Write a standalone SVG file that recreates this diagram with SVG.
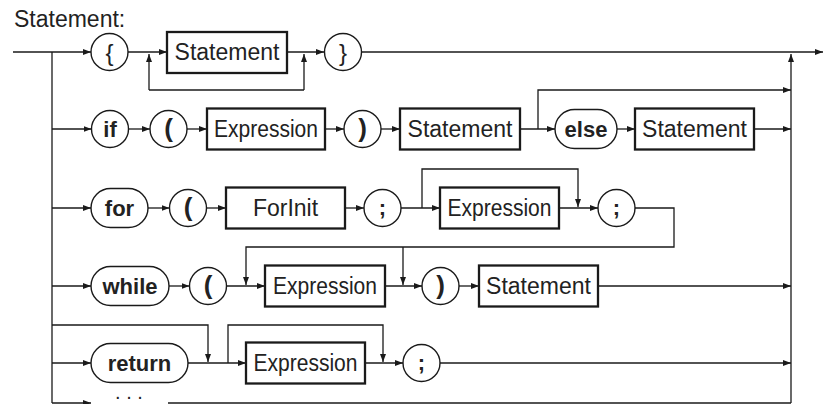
<svg xmlns="http://www.w3.org/2000/svg" width="823" height="404" viewBox="0 0 823 404">
<defs>
<marker id="ah" markerUnits="userSpaceOnUse" markerWidth="9" markerHeight="7" refX="8" refY="3" orient="auto">
<path d="M0,0 L8,3 L0,6 z" fill="#1a1a1a"/>
</marker>
<style>
.l{fill:none;stroke:#1a1a1a;stroke-width:1.3}
.a{marker-end:url(#ah)}
.box{fill:#fff;stroke:#1a1a1a;stroke-width:2.3}
.term{fill:#fff;stroke:#1a1a1a;stroke-width:1.4}
.t{font-family:"Liberation Sans",Arial,sans-serif;font-size:23px;fill:#222}
.k{font-family:"Liberation Sans",Arial,sans-serif;font-size:22px;font-weight:bold;fill:#222;text-anchor:middle}
.p{font-family:"Liberation Sans",Arial,sans-serif;font-size:26px;fill:#222;text-anchor:middle}
.m{text-anchor:middle}
</style>
</defs>
<text class="t" x="14" y="27">Statement:</text>
<g id="connectors">
<path class="l" d="M52,52 V403"/>
<path class="l a" d="M791,403 V54"/>
<path class="l a" d="M13,52 H91"/>
<path class="l a" d="M128,52 H167"/>
<path class="l a" d="M287,52 H324"/>
<path class="l" d="M149,90 H304"/>
<path class="l a" d="M149,90 V54"/>
<path class="l a" d="M304,90 V54"/>
<path class="l a" d="M362,52 H823"/>
<path class="l a" d="M52,129 H91.5"/>
<path class="l a" d="M128.5,129 H150"/>
<path class="l a" d="M187,129 H207"/>
<path class="l a" d="M325,129 H344"/>
<path class="l a" d="M381,129 H400"/>
<path class="l a" d="M520,129 H555"/>
<path class="l a" d="M538,129 V90 H791"/>
<path class="l a" d="M617,129 H635"/>
<path class="l a" d="M754,129 H791"/>
<path class="l a" d="M52,208 H91"/>
<path class="l a" d="M148,208 H169.5"/>
<path class="l a" d="M206.5,208 H226"/>
<path class="l a" d="M345,208 H364"/>
<path class="l a" d="M401,208 H440"/>
<path class="l a" d="M422,208 V169 H578 V207"/>
<path class="l a" d="M559,208 H598"/>
<path class="l a" d="M635,208 H674 V247 H246 V285"/>
<path class="l a" d="M403,247 V285"/>
<path class="l a" d="M52,286 H91"/>
<path class="l a" d="M169,286 H189.5"/>
<path class="l a" d="M226.5,286 H265"/>
<path class="l a" d="M385,286 H422"/>
<path class="l a" d="M459,286 H479"/>
<path class="l a" d="M598,286 H791"/>
<path class="l a" d="M52,363 H91"/>
<path class="l a" d="M52,325 H208 V362"/>
<path class="l a" d="M188,363 H246"/>
<path class="l a" d="M228,363 V325 H383 V362"/>
<path class="l a" d="M365,363 H403"/>
<path class="l a" d="M440,363 H791"/>
<path class="l a" d="M52,403 H91"/>
<path class="l" d="M168,403 H791"/>
</g>
<g id="lbrace"><circle class="term" cx="109.5" cy="52" r="18.5"/><text class="p" x="109.5" y="61" style="font-size:24px">{</text></g>
<g id="stmt1"><rect class="box" x="167" y="32" width="120" height="41"/><text class="t m" x="227" y="60">Statement</text></g>
<g id="rbrace"><circle class="term" cx="343" cy="52" r="18.5"/><text class="p" x="343" y="61" style="font-size:24px">}</text></g>

<g id="if"><circle class="term" cx="110" cy="129" r="18.5"/><text class="k" x="110" y="137">if</text></g>
<g id="lparen1"><circle class="term" cx="168.5" cy="129" r="18.5"/><text class="p" x="168.5" y="137" font-weight="bold">(</text></g>
<g id="expr1"><rect class="box" x="207" y="108.5" width="118" height="41"/><text class="t m" x="266" y="137" textLength="104" lengthAdjust="spacingAndGlyphs">Expression</text></g>
<g id="rparen1"><circle class="term" cx="362.5" cy="129" r="18.5"/><text class="p" x="362.5" y="137" font-weight="bold">)</text></g>
<g id="stmt2"><rect class="box" x="400" y="108.5" width="120" height="41"/><text class="t m" x="460" y="137">Statement</text></g>
<g id="else"><rect class="term" x="555" y="109.5" width="62" height="39" rx="19.5"/><text class="k" x="586" y="137">else</text></g>
<g id="stmt3"><rect class="box" x="635" y="108.5" width="119" height="41"/><text class="t m" x="694.5" y="137">Statement</text></g>

<g id="for"><rect class="term" x="91" y="188.5" width="57" height="39" rx="19.5"/><text class="k" x="119.5" y="216">for</text></g>
<g id="lparen2"><circle class="term" cx="188" cy="208" r="18.5"/><text class="p" x="188" y="216" font-weight="bold">(</text></g>
<g id="forinit"><rect class="box" x="226" y="187.5" width="119" height="41"/><text class="t m" x="285.5" y="216">ForInit</text></g>
<g id="semi1"><circle class="term" cx="382.5" cy="208" r="18.5"/><text class="k" x="382.5" y="215">;</text></g>
<g id="expr2"><rect class="box" x="440" y="187.5" width="119" height="41"/><text class="t m" x="499.5" y="216" textLength="104" lengthAdjust="spacingAndGlyphs">Expression</text></g>
<g id="semi2"><circle class="term" cx="616.5" cy="208" r="18.5"/><text class="k" x="616.5" y="215">;</text></g>

<g id="while"><rect class="term" x="91" y="266.5" width="78" height="39" rx="19.5"/><text class="k" x="130" y="294">while</text></g>
<g id="lparen3"><circle class="term" cx="208" cy="286" r="18.5"/><text class="p" x="208" y="294" font-weight="bold">(</text></g>
<g id="expr3"><rect class="box" x="265" y="265.5" width="120" height="41"/><text class="t m" x="325" y="294" textLength="104" lengthAdjust="spacingAndGlyphs">Expression</text></g>
<g id="rparen3"><circle class="term" cx="440.5" cy="286" r="18.5"/><text class="p" x="440.5" y="294" font-weight="bold">)</text></g>
<g id="stmt4"><rect class="box" x="479" y="265.5" width="119" height="41"/><text class="t m" x="538.5" y="294">Statement</text></g>

<g id="return"><rect class="term" x="91" y="343.5" width="97" height="39" rx="19.5"/><text class="k" x="139.5" y="371">return</text></g>
<g id="expr4"><rect class="box" x="246" y="342.5" width="119" height="41"/><text class="t m" x="305.5" y="371" textLength="104" lengthAdjust="spacingAndGlyphs">Expression</text></g>
<g id="semi3"><circle class="term" cx="421.5" cy="363" r="18.5"/><text class="k" x="421.5" y="370">;</text></g>

<g id="more"><text class="t m" x="129" y="399" style="font-size:20px">. . .</text></g>
</svg>
